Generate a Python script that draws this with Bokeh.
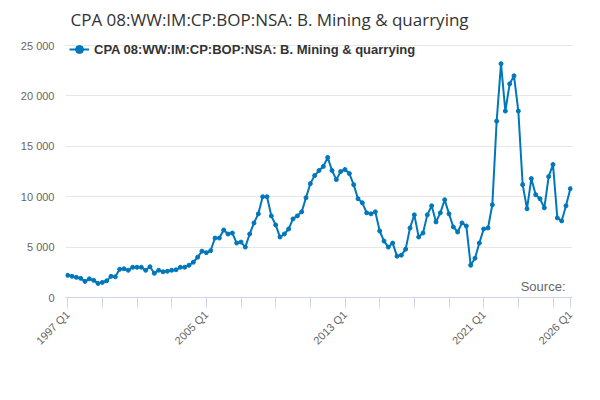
from bokeh.plotting import figure
from bokeh.models import FixedTicker, Legend, LegendItem, Label
from bokeh.embed import file_html
from bokeh.resources import INLINE

values = [2200,2100,2000,1900, 1600,1850,1700,1400, 1500,1650,2100,2050,
          2800,2850,2700,3000, 3000,3000,2700,3050, 2400,2700,2550,2600,
          2700,2750,3000,3000, 3200,3500,4000,4600, 4450,4650,5900,5900,
          6700,6300,6400,5400, 5500,5000,6300,7400, 8300,10000,10000,8100,
          7200,6000,6300,6800, 7800,8100,8500,9900, 11300,12100,12600,13000,
          13900,12600,11700,12500, 12700,12300,11200,9800, 9400,8400,8300,8500,
          6600,5600,5000,5400, 4100,4200,4800,6900, 8200,6000,6400,8200,
          9100,7500,8400,9700, 8300,7000,6500,7400, 7100,3200,3900,5400,
          6800,6900,9200,17500, 23200,18500,21200,22000, 18500,11200,8800,11800,
          10200,9800,8900,12000, 13200,7900,7600,9100, 10800]
labels = [f"{1997 + i // 4} Q{i % 4 + 1}" for i in range(len(values))]
x = list(range(len(values)))
major_idx = [0, 32, 64, 96, 116]
y_ticks = [0, 5000, 10000, 15000, 20000, 25000]
y_labels = ["0", "5 000", "10 000", "15 000", "20 000", "25 000"]

p = figure(width=584, height=384, output_backend="svg", toolbar_location=None,
           x_range=(-0.5, 116.5), y_range=(0, 26000), min_border_left=65,
           min_border_right=12, min_border_bottom=87, min_border_top=8)
p.title.text = "CPA 08:WW:IM:CP:BOP:NSA: B. Mining & quarrying"
p.title.text_font = "Open Sans"
p.title.text_font_size = "17px"
p.title.text_font_style = "normal"
p.title.text_color = "#333333"
p.title.offset = 5
p.outline_line_color = None
color = "#0077bb"
r1 = p.line(x, values, line_color=color, line_width=2)
r2 = p.scatter(x, values, size=4, color=color)

p.xaxis.ticker = FixedTicker(ticks=major_idx, minor_ticks=list(range(0, 117, 8)))
p.xaxis.major_label_overrides = {i: labels[i] for i in major_idx}
p.xaxis.major_label_orientation = 0.785
p.xaxis.axis_line_color = "#ccd6eb"
p.xaxis.major_tick_line_color = "#ccd6eb"
p.xaxis.minor_tick_line_color = "#ccd6eb"
p.xaxis.major_tick_out = 10
p.xaxis.minor_tick_out = 10
p.xaxis.minor_tick_in = 0
p.xaxis.major_tick_in = 0
p.xaxis.major_label_text_color = "#666666"
p.xaxis.major_label_text_font_size = "11px"
p.xgrid.grid_line_color = None

p.yaxis.ticker = FixedTicker(ticks=y_ticks)
p.yaxis.major_label_overrides = dict(zip(y_ticks, y_labels))
p.yaxis.axis_line_color = None
p.yaxis.major_tick_line_color = None
p.yaxis.minor_tick_line_color = None
p.yaxis.major_label_text_color = "#666666"
p.yaxis.major_label_text_font_size = "11px"
p.ygrid.grid_line_color = "#e6e6e6"

leg = Legend(items=[LegendItem(label="CPA 08:WW:IM:CP:BOP:NSA: B. Mining & quarrying", renderers=[r1, r2])],
             location="top_left", orientation="horizontal", border_line_color=None,
             background_fill_alpha=0,
             label_text_font_size="13px", label_text_font_style="bold", label_text_color="#333333",
             margin=4, padding=2)
p.add_layout(leg, "center")
p.add_layout(Label(x=500, y=4, x_units="screen", y_units="screen", text="Source:",
                   text_align="right", text_font_size="13px", text_color="#666666"))

open("out.html", "w").write(file_html(p, INLINE))
